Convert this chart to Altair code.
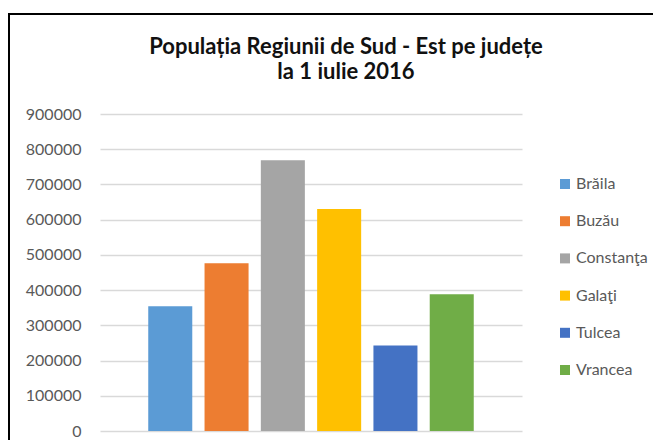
import altair as alt
import pandas as pd

judete = ["Brăila", "Buzău", "Constanţa", "Galaţi", "Tulcea", "Vrancea"]
populatie = [354000, 476000, 769000, 630000, 243000, 388000]
culori = ["#5B9BD5", "#ED7D31", "#A5A5A5", "#FFC000", "#4472C4", "#70AD47"]
y_ticks = [0, 100000, 200000, 300000, 400000, 500000, 600000, 700000, 800000, 900000]
titlu = ["Populația Regiunii de Sud - Est pe județe", "la 1 iulie 2016"]

df = pd.DataFrame({"Judet": judete, "Populatie": populatie})

FONT = "Lato"
GRAY = "#595959"

bars = alt.Chart(df).mark_bar().encode(
    x=alt.X("Judet:N", sort=judete,
            scale=alt.Scale(paddingInner=0.218, paddingOuter=0.857),
            axis=alt.Axis(labels=False, ticks=False, domain=False, title=None, grid=False)),
    y=alt.Y("Populatie:Q",
            scale=alt.Scale(domain=[0, 900000], nice=False),
            axis=alt.Axis(values=y_ticks, format="d", title=None, domain=False, ticks=False,
                          labelPadding=19, labelFont=FONT, labelFontSize=16, labelColor=GRAY,
                          gridColor="#D9D9D9", gridWidth=1.3)),
    color=alt.Color("Judet:N", sort=judete,
                    scale=alt.Scale(domain=judete, range=culori),
                    legend=alt.Legend(title=None, orient="none", legendX=457, legendY=62,
                                      symbolType="square", symbolSize=100, symbolStrokeWidth=0,
                                      symbolOpacity=1, labelFont=FONT, labelFontSize=16,
                                      labelColor=GRAY, labelOffset=3, rowPadding=21.2,
                                      labelLimit=200)),
)

frame = alt.Chart(pd.DataFrame({"k": [0]})).mark_rect(
    filled=False, stroke="black", strokeWidth=2
).encode(
    x=alt.value(-91), x2=alt.value(600), y=alt.value(-100), y2=alt.value(360)
)

chart = alt.layer(frame, bars).properties(
    width=422,
    height=317,
    background="white",
    autosize=alt.AutoSizeParams(type="none"),
    padding={"left": 92, "top": 106, "right": 131, "bottom": 9},
    title=alt.TitleParams(text=titlu, font=FONT, fontSize=22, fontWeight="bold",
                          color="#111111", anchor="middle", frame="group", dx=35, offset=34,
                          dy=105, lineHeight=25),
).configure_view(stroke=None)

chart.save("out.html", embed_options={"renderer": "svg", "actions": False})
